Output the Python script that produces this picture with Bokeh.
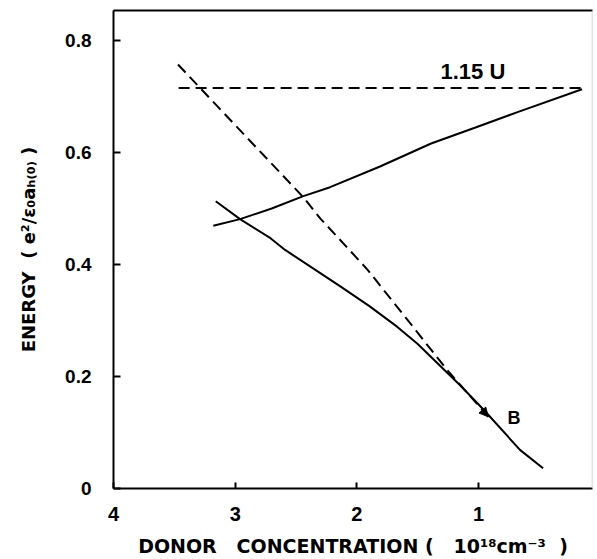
from bokeh.plotting import figure
from bokeh.models import Range1d, FixedTicker, Label, Span, Arrow, NormalHead, LinearAxis
from bokeh.embed import file_html
from bokeh.resources import INLINE

# ---- data ----
x_ticks = [4, 3, 2, 1]
y_ticks = [0, 0.2, 0.4, 0.6, 0.8]
y_tick_labels = ["0", "0.2", "0.4", "0.6", "0.8"]

level_x = [3.465, 0.137]          # 1.15 U level (dashed horizontal)
level_y = [0.715, 0.715]

dash_x = [3.47, 2.44, 2.30, 2.07, 1.91, 1.54, 1.26, 0.92]   # dashed diagonal
dash_y = [0.757, 0.520, 0.482, 0.428, 0.390, 0.289, 0.212, 0.128]

upper_x = [3.18, 2.96, 2.70, 2.44, 2.22, 1.81, 1.39, 1.02, 0.68, 0.15]
upper_y = [0.469, 0.481, 0.500, 0.522, 0.538, 0.575, 0.616, 0.645, 0.672, 0.713]

lower_x = [3.16, 2.96, 2.71, 2.59, 2.36, 2.13, 1.90, 1.67, 1.50, 1.34, 1.15, 0.96, 0.66, 0.47]
lower_y = [0.513, 0.481, 0.447, 0.426, 0.393, 0.360, 0.326, 0.289, 0.258, 0.224, 0.184, 0.141, 0.069, 0.036]

NB = "\u00a0"
x_title = f"DONOR{NB*3}CONCENTRATION{NB}({NB*3}10\u00b9\u2078cm\u207b\u00b3{NB*2})"
y_title = f"ENERGY{NB*2}({NB}e\u00b2/\u03b5\u2080a\u2095\u208d\u2080\u208e{NB})"

# ---- layout ----
X_START, X_END = 4.0, 0.064
Y_START, Y_END = 0.0, 0.8535
PXU = 121.7     # px per x unit
PYU = 561.25    # px per y unit

def dx(px):
    return X_START - (px - 113) / PXU

def dy(py):
    return (489 - py) / PYU

p = figure(width=597, height=559, output_backend="svg", toolbar_location=None,
           x_range=Range1d(X_START, X_END), y_range=Range1d(Y_START, Y_END),
           min_border_left=113, min_border_right=5, min_border_top=10, min_border_bottom=70)
p.background_fill_color = "white"
p.border_fill_color = "white"
p.outline_line_color = None
p.grid.visible = False

for ax in (p.xaxis[0], p.yaxis[0]):
    ax.axis_line_width = 2
    ax.axis_line_color = "black"
    ax.major_tick_out = 0
    ax.major_tick_line_width = 2
    ax.minor_tick_line_color = None
    ax.major_label_text_font = "Liberation Sans"
    ax.major_label_text_font_style = "bold"
    ax.major_label_text_color = "black"
    ax.axis_label_text_font = "DejaVu Sans"
    ax.axis_label_text_font_style = "bold"
    ax.axis_label_text_color = "black"

p.xaxis.ticker = FixedTicker(ticks=x_ticks)
p.xaxis.major_tick_in = 6
p.xaxis.major_label_text_font_size = "20px"
p.xaxis.major_label_standoff = 18
p.xaxis.axis_label = x_title
p.xaxis.axis_label_text_font_size = "19px"
p.xaxis.axis_label_standoff = 11

p.yaxis.ticker = FixedTicker(ticks=y_ticks)
p.yaxis.major_label_overrides = {t: s for t, s in zip(y_ticks, y_tick_labels)}
p.yaxis.major_tick_in = 7
p.yaxis.major_label_text_font_size = "19px"
p.yaxis.major_label_standoff = 22
p.yaxis.axis_label = y_title
p.yaxis.axis_label_text_font_size = "18px"
p.yaxis.axis_label_standoff = 23

top = LinearAxis(ticker=FixedTicker(ticks=[]), axis_line_width=2, axis_line_color="black",
                 major_label_text_font_size="0px", major_tick_in=0, major_tick_out=0,
                 minor_tick_line_color=None, major_label_standoff=0)
p.add_layout(top, "above")
p.add_layout(Span(location=X_END, dimension="height", line_color="#c8c8c8", line_width=1.5))

# ---- curves ----
p.line(level_x, level_y, line_color="black", line_width=2, line_dash="11 6")
p.line(dash_x, dash_y, line_color="black", line_width=2, line_dash="11 6")
p.line(upper_x, upper_y, line_color="black", line_width=2)
p.line(lower_x, lower_y, line_color="black", line_width=2)
p.add_layout(Arrow(end=NormalHead(size=9, fill_color="black", line_color="black"),
                   x_start=dash_x[-2], y_start=dash_y[-2], x_end=dash_x[-1], y_end=dash_y[-1],
                   line_alpha=0))

def lab(text, px, py, size, font="Liberation Sans"):
    p.add_layout(Label(x=dx(px), y=dy(py), text=text, text_font=font, text_font_style="bold",
                       text_font_size=f"{size}px", text_color="black",
                       text_align="left", text_baseline="alphabetic"))

lab("1.15 U", 440, 71, 22)
lab("B", 507, 418, 18)

open("out.html", "w").write(file_html(p, INLINE))
